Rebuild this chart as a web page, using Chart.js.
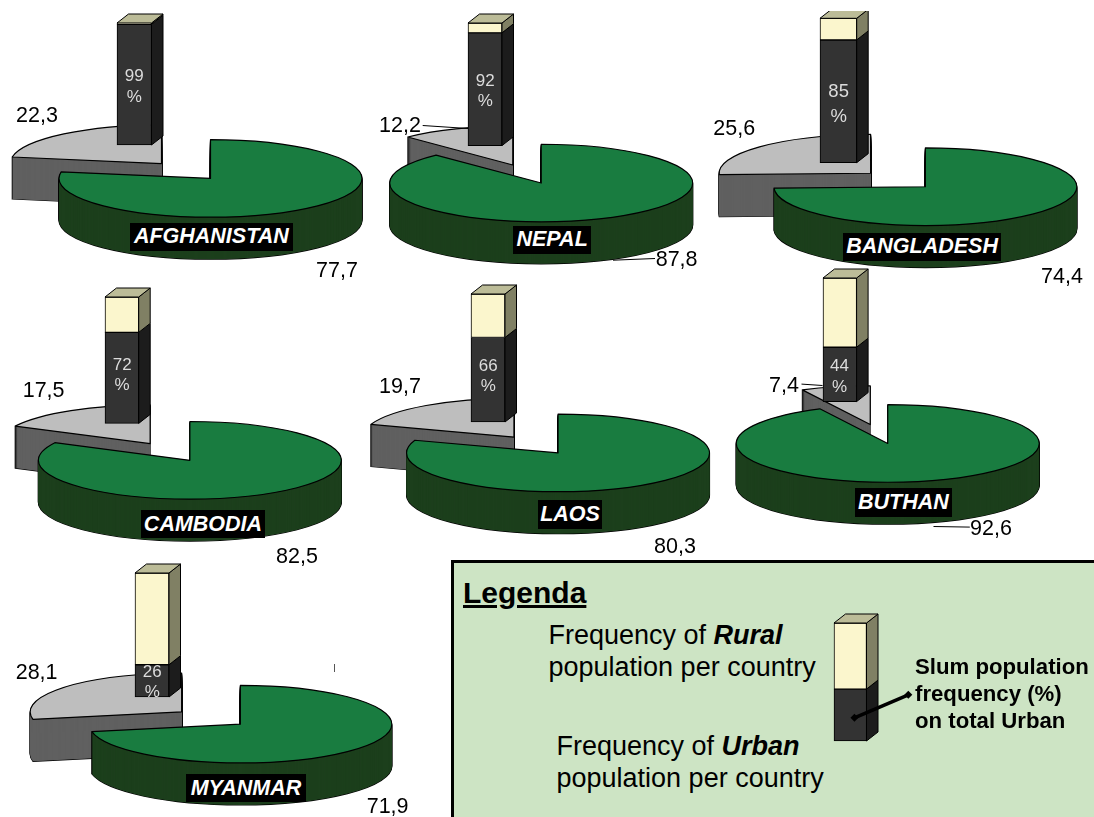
<!DOCTYPE html>
<html>
<head>
<meta charset="utf-8">
<title>Rural and urban population by country</title>
<script src="https://cdn.jsdelivr.net/npm/chart.js@4"></script>
<style>
  html, body { margin: 0; padding: 0; background: #fff; }
  #page { position: relative; width: 1094px; height: 817px; overflow: hidden; background: #fff;
          font-family: "Liberation Sans", Arial, sans-serif; color: #000; }
  #page canvas { position: absolute; }
  .txt { position: absolute; white-space: pre; line-height: 1; }
  .tag { position: absolute; display: flex; align-items: center; justify-content: center; background: #000;
         color: #fff; font-weight: bold; font-style: italic; font-size: 21.5px; white-space: pre; }
  #legendBox { position: absolute; left: 451px; top: 560px; width: 660px; height: 280px; background: #cde4c4;
               border-left: 3px solid #000; border-top: 3px solid #000; }
  #speck { position: absolute; left: 334px; top: 664px; width: 1px; height: 8px; background: #555; }
</style>
</head>
<body>
<div id="page"><div id="legendBox"></div><div id="speck"></div></div>
<script>
// Values per country
const countries = ["AFGHANISTAN", "NEPAL", "BANGLADESH", "CAMBODIA", "LAOS", "BUTHAN", "MYANMAR"];
const ruralPct = [77.7, 87.8, 74.4, 82.5, 80.3, 92.6, 71.9];
const urbanPct = [22.3, 12.2, 25.6, 17.5, 19.7, 7.4, 28.1];
const slumPct = [99, 92, 85, 72, 66, 44, 26];
const nonSlumPct = [1, 8, 15, 28, 34, 56, 74];
const legendSlumPct = [44];
const legendNonSlumPct = [56];

// Page placement, kept apart from the values
const pieCentres = [[186.2,170.5],[527,173.5],[897.5,180.3],[170.3,451.5],[536.2,445.3],[878.5,434.2],[211.4,718.3]];
const barBoxes = [ // left, top, width, height, headroom above the front face
  [117,23,34.5,122,11],[468.3,22.7,34,122.6,11],[820.3,18.3,36.7,144.4,7.3],[105.3,297.3,33.7,126.4,11],
  [471.3,294,34,128,11],[822.7,277.7,33.6,123.6,11],[135.3,573.3,34,124,11]];
const percentRows = [[75.5,96.7,17],[80.7,100,17],[91,115.7,18.5],[364,384.3,17],[365.7,385.7,17],[365.7,386,17],[671,691.7,17]];
const ruralLabelAt = [[316,277.7],[655.7,266.7],[1041,284.3],[276,564.3],[654,553.7],[970,535.7],[366.7,814]];
const urbanLabelAt = [[16,123.3],[379,133.3],[713.3,136],[22.7,398.3],[379,394],[769,393.3],[15.7,680]];
const tagBoxes = [[130,223,162.7,27.7],[513.3,226,77.7,27.7],[843.3,232.7,157.7,28],[141.3,510,123.4,28],
  [538,500,64,28.7],[855,488.3,96.7,28.4],[186,774,120,28.3]];
const leaderLines = [[],[[422.7,125,468,128],[655,258,613,259.7]],[],[],[],[[801,384.3,822,385.7],[969.3,527.3,933,526.7]],[]];

// Drawing constants
const tilt = 0.256, pieDepth = 42, pieRadius = 151.5, pieExplode = 38;
const pieW = 400, pieH = 240;
const topColors = ["#197c40", "#bebebe"], wallColors = ["#1c3f1c", "#606060"];
const sideDx = 11.5, sideDy = 9;
const darkFront = "#333333", darkSide = "#1c1c1c", creamFront = "#fbf6cd", creamSide = "#808064", creamTop = "#bcbc98";

const page = document.getElementById("page");

function addCanvas(left, top, w, h) {
  const c = document.createElement("canvas");
  c.width = w; c.height = h;
  c.style.left = left + "px"; c.style.top = top + "px";
  c.style.width = w + "px"; c.style.height = h + "px";
  page.appendChild(c);
  return c;
}

// Places text by its baseline; with line-height 1 the baseline sits 0.8465em below the box top
function addText(str, x, baseline, size, css) {
  const d = document.createElement("div");
  d.className = "txt";
  d.textContent = str;
  d.style.left = x + "px";
  d.style.top = (baseline - 0.8465 * size) + "px";
  d.style.fontSize = size + "px";
  if (css) Object.assign(d.style, css);
  page.appendChild(d);
  return d;
}

function wedgePath(ctx, cx, cy, a0, a1, r) {
  ctx.beginPath();
  ctx.moveTo(cx, cy);
  ctx.ellipse(cx, cy, r, r * tilt, 0, a0, a1);
  ctx.closePath();
}

// Renders each pie slice flattened and extruded, using the angles the pie controller computed
const tiltedPie = {
  id: "tiltedPie",
  beforeDatasetDraw(chart, args) {
    const ctx = chart.ctx;
    const arcs = args.meta.data;
    ctx.save();
    for (let i = arcs.length - 1; i >= 0; i--) {
      const arc = arcs[i];
      const p = arc.getProps(["x", "y", "startAngle", "endAngle", "outerRadius"], true);
      const off = arc.options.offset;
      const mid = (p.startAngle + p.endAngle) / 2;
      const cx = p.x + Math.cos(mid) * off;
      const cy = p.y + Math.sin(mid) * off * tilt;
      ctx.lineJoin = "round";
      ctx.strokeStyle = "#000";
      ctx.lineWidth = 1.2;
      for (let d = pieDepth; d > 0; d--) {
        wedgePath(ctx, cx, cy + d, p.startAngle, p.endAngle, p.outerRadius);
        ctx.stroke();
      }
      ctx.fillStyle = chart.data.datasets[0].wallColors[i];
      for (let d = pieDepth; d > 0; d--) {
        wedgePath(ctx, cx, cy + d, p.startAngle, p.endAngle, p.outerRadius);
        ctx.fill();
      }
      wedgePath(ctx, cx, cy, p.startAngle, p.endAngle, p.outerRadius);
      ctx.fillStyle = arc.options.backgroundColor;
      ctx.fill();
      ctx.stroke();
    }
    const o = chart.options.plugins.tiltedPie;
    ctx.lineWidth = 1;
    ctx.strokeStyle = "#000";
    (o.leaders || []).forEach(l => {
      ctx.beginPath();
      ctx.moveTo(l[0] - o.left, l[1] - o.top);
      ctx.lineTo(l[2] - o.left, l[3] - o.top);
      ctx.stroke();
    });
    ctx.restore();
    return false;
  }
};

// Adds the side and top faces to each stacked column
const boxBars = {
  id: "boxBars",
  afterDatasetsDraw(chart) {
    const ctx = chart.ctx;
    const sides = [darkSide, creamSide];
    ctx.save();
    ctx.strokeStyle = "#000";
    ctx.lineWidth = 1;
    ctx.lineJoin = "round";
    let top = null;
    chart.data.datasets.forEach((ds, di) => {
      const el = chart.getDatasetMeta(di).data[0];
      const b = el.getProps(["x", "y", "base", "width"], true);
      const right = b.x + b.width / 2, left = b.x - b.width / 2;
      ctx.beginPath();
      ctx.moveTo(right, b.y);
      ctx.lineTo(right + sideDx, b.y - sideDy);
      ctx.lineTo(right + sideDx, b.base - sideDy);
      ctx.lineTo(right, b.base);
      ctx.closePath();
      ctx.fillStyle = sides[di];
      ctx.fill();
      ctx.stroke();
      top = { left, right, y: b.y };
    });
    ctx.beginPath();
    ctx.moveTo(top.left, top.y);
    ctx.lineTo(top.left + sideDx, top.y - sideDy);
    ctx.lineTo(top.right + sideDx, top.y - sideDy);
    ctx.lineTo(top.right, top.y);
    ctx.closePath();
    ctx.fillStyle = creamTop;
    ctx.fill();
    ctx.stroke();
    const arrow = chart.options.plugins.boxBars.arrow;
    if (arrow) {
      const a = chart.canvas.getBoundingClientRect();
      const x0 = arrow[0] - a.left, y0 = arrow[1] - a.top, x1 = arrow[2] - a.left, y1 = arrow[3] - a.top;
      ctx.lineWidth = 3.5;
      ctx.beginPath();
      ctx.moveTo(x0, y0);
      ctx.lineTo(x1, y1);
      ctx.stroke();
      ctx.fillStyle = "#000";
      [[x0, y0], [x1, y1]].forEach(q => {
        ctx.beginPath();
        ctx.moveTo(q[0] - 4, q[1]);
        ctx.lineTo(q[0], q[1] - 4);
        ctx.lineTo(q[0] + 4, q[1]);
        ctx.lineTo(q[0], q[1] + 4);
        ctx.closePath();
        ctx.fill();
      });
    }
    ctx.restore();
  }
};

function drawPie(i) {
  const [cx, cy] = pieCentres[i];
  const left = cx - pieW / 2, top = cy - pieH / 2;
  const canvas = addCanvas(left, top, pieW, pieH);
  new Chart(canvas, {
    type: "pie",
    plugins: [tiltedPie],
    data: {
      labels: ["Rural", "Urban"],
      datasets: [{
        data: [ruralPct[i], urbanPct[i]],
        backgroundColor: topColors,
        wallColors: wallColors,
        borderWidth: 0,
        offset: pieExplode,
        radius: pieRadius
      }]
    },
    options: {
      responsive: false,
      animation: false,
      layout: { padding: 0 },
      plugins: {
        legend: { display: false },
        tooltip: { enabled: false },
        tiltedPie: { leaders: leaderLines[i], left, top }
      }
    }
  });
}

function drawBar(label, slum, other, box, extra) {
  const [left, top, w, h, head] = box;
  const padR = extra ? extra.padRight : 14, padB = 3, padL = 2;
  const canvasLeft = left - padL, canvasTop = top - head;
  const canvas = addCanvas(canvasLeft, canvasTop, Math.ceil(w + padL + padR), Math.ceil(h + head + padB));
  new Chart(canvas, {
    type: "bar",
    plugins: [boxBars],
    data: {
      labels: [label],
      datasets: [
        { label: "Slum", data: [slum], backgroundColor: darkFront, borderColor: "#000", borderWidth: 1, borderSkipped: false, barThickness: w, clip: false },
        { label: "Other", data: [other], backgroundColor: creamFront, borderColor: "#000", borderWidth: 1, borderSkipped: false, barThickness: w, clip: false }
      ]
    },
    options: {
      responsive: false,
      animation: false,
      layout: { padding: { left: padL, top: head, right: canvas.width - w - padL, bottom: canvas.height - h - head } },
      scales: {
        x: { display: false, stacked: true },
        y: { display: false, stacked: true, min: 0, max: 100 }
      },
      plugins: {
        legend: { display: false },
        tooltip: { enabled: false },
        boxBars: { arrow: extra ? extra.arrow : null }
      }
    }
  });
}

countries.forEach((name, i) => drawPie(i));
countries.forEach((name, i) => drawBar(name, slumPct[i], nonSlumPct[i], barBoxes[i]));

// Value labels, country tags and the percentage inside each column
countries.forEach((name, i) => {
  addText(ruralPct[i].toFixed(1).replace(".", ","), ruralLabelAt[i][0], ruralLabelAt[i][1], 21.5);
  addText(urbanPct[i].toFixed(1).replace(".", ","), urbanLabelAt[i][0], urbanLabelAt[i][1], 21.5);

  const [l, t, w, h] = tagBoxes[i];
  const tag = document.createElement("div");
  tag.className = "tag";
  tag.textContent = name;
  Object.assign(tag.style, { left: l + "px", top: t + "px", width: w + "px", height: h + "px" });
  page.appendChild(tag);

  const [y1, y2, size] = percentRows[i];
  const centre = barBoxes[i][0] + barBoxes[i][2] / 2;
  [[String(slumPct[i]), y1], ["%", y2]].forEach(([s, y]) => {
    addText(s, centre - 20, y + size * 0.36, size, { width: "40px", textAlign: "center", color: "#dcdcdc" });
  });
});

// Legend
drawBar("Legend", legendSlumPct[0], legendNonSlumPct[0], [834.2, 622.7, 32.5, 118, 11],
        { padRight: 85, arrow: [854.6, 717.5, 908.5, 694.5] });
addText("Legenda", 463, 603.5, 30, { fontWeight: "bold", textDecoration: "underline" });

function legendLine(parts, x, baseline) {
  const d = addText("", x, baseline, 27);
  parts.forEach(([s, emphasised]) => {
    const span = document.createElement("span");
    span.textContent = s;
    if (emphasised) { span.style.fontWeight = "bold"; span.style.fontStyle = "italic"; }
    d.appendChild(span);
  });
}
legendLine([["Frequency of ", false], ["Rural", true]], 548.5, 645);
legendLine([["population per country", false]], 548.5, 677);
legendLine([["Frequency of ", false], ["Urban", true]], 556.5, 755.5);
legendLine([["population per country", false]], 556.5, 788);
addText("Slum population", 915, 675, 22.2, { fontWeight: "bold" });
addText("frequency (%)", 915, 702, 22.2, { fontWeight: "bold" });
addText("on total Urban", 915, 729, 22.2, { fontWeight: "bold" });
</script>
</body>
</html>
